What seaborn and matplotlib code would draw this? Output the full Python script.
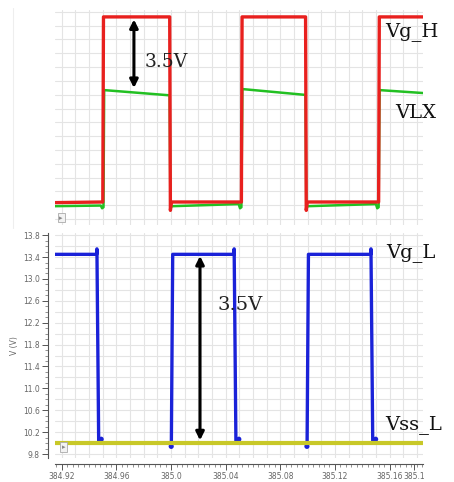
import numpy as np
import pandas as pd
import matplotlib
matplotlib.use("Agg")
import matplotlib.pyplot as plt
from matplotlib.ticker import MultipleLocator, FixedLocator
import seaborn as sns

# ---------------- data ----------------
# top panel (high side gate / switch node)
t_vgh = [384.915, 384.950, 384.9505, 384.999, 384.9995, 385.0003, 385.0515, 385.052,
         385.0985, 385.099, 385.0998, 385.152, 385.1525, 385.1845]
v_vgh = [0.12, 0.15, 9.0, 9.0, -0.25, 0.15, 0.15, 9.0, 9.0, -0.25, 0.15, 0.15, 9.0, 9.0]

t_vlx = [384.915, 384.9485, 384.9495, 384.9505, 384.951, 384.999, 384.9995, 385.001,
         385.0495, 385.0505, 385.0515, 385.0522, 385.0985, 385.099, 385.1005,
         385.150, 385.151, 385.152, 385.1527, 385.1845]
v_vlx = [-0.05, -0.02, -0.15, -0.1, 5.5, 5.25, -0.1, -0.05,
         0.05, -0.15, -0.1, 5.55, 5.27, -0.1, -0.05,
         0.05, -0.15, -0.1, 5.5, 5.36]

# bottom panel (low side gate / source)
t_vgl = [384.915, 384.9455, 384.9457, 384.9470, 385.0000, 385.0002, 385.0012,
         385.0460, 385.0462, 385.0475, 385.0994, 385.0996, 385.1006,
         385.1462, 385.1464, 385.1477, 385.1845]
v_vgl = [13.45, 13.45, 13.55, 10.0, 10.0, 9.95, 13.45,
         13.45, 13.55, 10.0, 10.0, 9.95, 13.45,
         13.45, 13.55, 10.0, 10.0]
t_vgl_dot = [384.9488, 385.0496, 385.1498]
v_vgl_dot = [10.07, 10.07, 10.07]
t_vgl_dip = [385.0001, 385.0995]
v_vgl_dip = [9.94, 9.94]

t_vss = [384.915, 385.1845]
v_vss = [10.0, 10.0]

x_ticks = [384.92, 384.96, 385.0, 385.04, 385.08, 385.12, 385.16, 385.178]
x_ticklabels = ["384.92", "384.96", "385.0", "385.04", "385.08", "385.12", "385.16", "385.1"]
y_ticks = [9.8, 10.2, 10.6, 11.0, 11.4, 11.8, 12.2, 12.6, 13.0, 13.4, 13.8]
y_ticklabels = ["9.8", "10.2", "10.6", "11.0", "11.4", "11.8", "12.2", "12.6", "13.0", "13.4", "13.8"]

# ---------------- style ----------------
sns.set_theme(style="white")
plt.rcParams['font.family'] = ['DejaVu Sans']

RED = "#e8201e"
GREEN = "#22c022"
BLUE = "#1a22d8"
YEL = "#c8c828"
GRID = "#e4e4e4"
TICKC = "#666666"

fig = plt.figure(figsize=(4.54, 4.82), dpi=100)
ax1 = fig.add_axes([55/454, 1-225/482, 368/454, 215/482])
ax2 = fig.add_axes([55/454, 1-458/482, 368/454, 225/482])

xlim = (384.915, 385.1845)

# ---------- top ----------
df_h = pd.DataFrame({"t": t_vgh, "v": v_vgh})
df_x = pd.DataFrame({"t": t_vlx, "v": v_vlx})
sns.lineplot(data=df_x, x="t", y="v", ax=ax1, color=GREEN, lw=1.8, sort=False, estimator=None)
sns.lineplot(data=df_h, x="t", y="v", ax=ax1, color=RED, lw=2.4, sort=False, estimator=None)
ax1.set_xlim(*xlim)
ax1.set_ylim(-0.95, 9.33)
ax1.xaxis.set_major_locator(MultipleLocator(0.01))
ax1.yaxis.set_major_locator(MultipleLocator(0.66))
ax1.grid(True, color=GRID, lw=0.8)
ax1.set_axisbelow(True)
ax1.tick_params(left=False, bottom=False, labelleft=False, labelbottom=False)
for s in ax1.spines.values():
    s.set_visible(False)
ax1.set_xlabel("")
ax1.set_ylabel("")

ax1.annotate("", xy=(384.9728, 8.88), xytext=(384.9728, 5.6),
             arrowprops=dict(arrowstyle="<|-|>", color="black", lw=2.2,
                             mutation_scale=12, shrinkA=0, shrinkB=0))
ax1.text(384.981, 6.85, "3.5V", family="DejaVu Serif", fontsize=13.5, va="center", ha="left",
         color="#222222")
ax1.text(385.1565, 8.28, "Vg_H", family="DejaVu Serif", fontsize=14, va="center", ha="left",
         color="#111111", clip_on=False)
ax1.text(385.164, 4.41, "VLX", family="DejaVu Serif", fontsize=14, va="center", ha="left",
         color="#111111", clip_on=False)
ax1.text(0.012, 0.02, "▸", transform=ax1.transAxes, fontsize=5, color="#888888",
         ha="left", va="bottom",
         bbox=dict(boxstyle="square,pad=0.25", fc="#f2f2f2", ec="#aaaaaa", lw=0.6))

# ---------- bottom ----------
df_l = pd.DataFrame({"t": t_vgl, "v": v_vgl})
df_s = pd.DataFrame({"t": t_vss, "v": v_vss})
sns.lineplot(data=df_l, x="t", y="v", ax=ax2, color=BLUE, lw=2.4, sort=False, estimator=None)
sns.scatterplot(x=t_vgl_dot, y=v_vgl_dot, ax=ax2, color=BLUE, s=14, edgecolor="none")
sns.scatterplot(x=t_vgl_dip, y=v_vgl_dip, ax=ax2, color=BLUE, s=14, edgecolor="none")
sns.lineplot(data=df_s, x="t", y="v", ax=ax2, color=YEL, lw=3.0, sort=False, estimator=None)
ax2.set_xlim(*xlim)
ax2.set_ylim(9.727, 13.84)

ax2.xaxis.set_major_locator(FixedLocator(x_ticks))
ax2.set_xticklabels(x_ticklabels)
ax2.xaxis.set_minor_locator(MultipleLocator(0.004))
ax2.yaxis.set_major_locator(FixedLocator(y_ticks))
ax2.set_yticklabels(y_ticklabels)
ax2.yaxis.set_minor_locator(MultipleLocator(0.1))
# grid lines
for gx in np.arange(384.92, 385.185, 0.01):
    ax2.axvline(gx, color=GRID, lw=0.8, zorder=0)
for gy in np.arange(9.8, 13.85, 0.2):
    ax2.axhline(gy, color=GRID, lw=0.8, zorder=0)
ax2.grid(False)

for s in ["top", "right"]:
    ax2.spines[s].set_visible(False)
ax2.spines["left"].set_position(("outward", 5))
ax2.spines["bottom"].set_position(("outward", 4))
ax2.spines["left"].set_color("#555555")
ax2.spines["bottom"].set_color("#555555")
ax2.spines["left"].set_linewidth(0.8)
ax2.spines["bottom"].set_linewidth(0.8)
ax2.tick_params(axis="both", which="major", length=4, width=0.7, color="#555555",
                labelsize=5.5, labelcolor=TICKC, pad=2, left=True, bottom=True)
ax2.tick_params(axis="both", which="minor", length=2, width=0.5, color="#666666",
                left=True, bottom=True)
ax2.set_xlabel("")
ax2.set_ylabel("V (V)", fontsize=5.5, color=TICKC, labelpad=3)

ax2.annotate("", xy=(385.0212, 13.42), xytext=(385.0212, 10.05),
             arrowprops=dict(arrowstyle="<|-|>", color="black", lw=2.2,
                             mutation_scale=12, shrinkA=0, shrinkB=0))
ax2.text(385.034, 12.52, "3.5V", family="DejaVu Serif", fontsize=14, va="center", ha="left",
         color="#222222")
ax2.text(385.1575, 13.49, "Vg_L", family="DejaVu Serif", fontsize=14, va="center", ha="left",
         color="#111111", clip_on=False)
ax2.text(385.1565, 10.33, "Vss_L", family="DejaVu Serif", fontsize=14, va="center", ha="left",
         color="#111111", clip_on=False)
ax2.text(0.018, 0.035, "▸", transform=ax2.transAxes, fontsize=5, color="#888888",
         ha="left", va="bottom",
         bbox=dict(boxstyle="square,pad=0.25", fc="#f2f2f2", ec="#aaaaaa", lw=0.6))

# faint window border at left of top panel
fig.add_artist(plt.Line2D([13/454, 13/454], [1-228/482, 1-8/482], transform=fig.transFigure,
                          color="#eeeeee", lw=0.8))

fig.savefig("out.png", dpi=100)
